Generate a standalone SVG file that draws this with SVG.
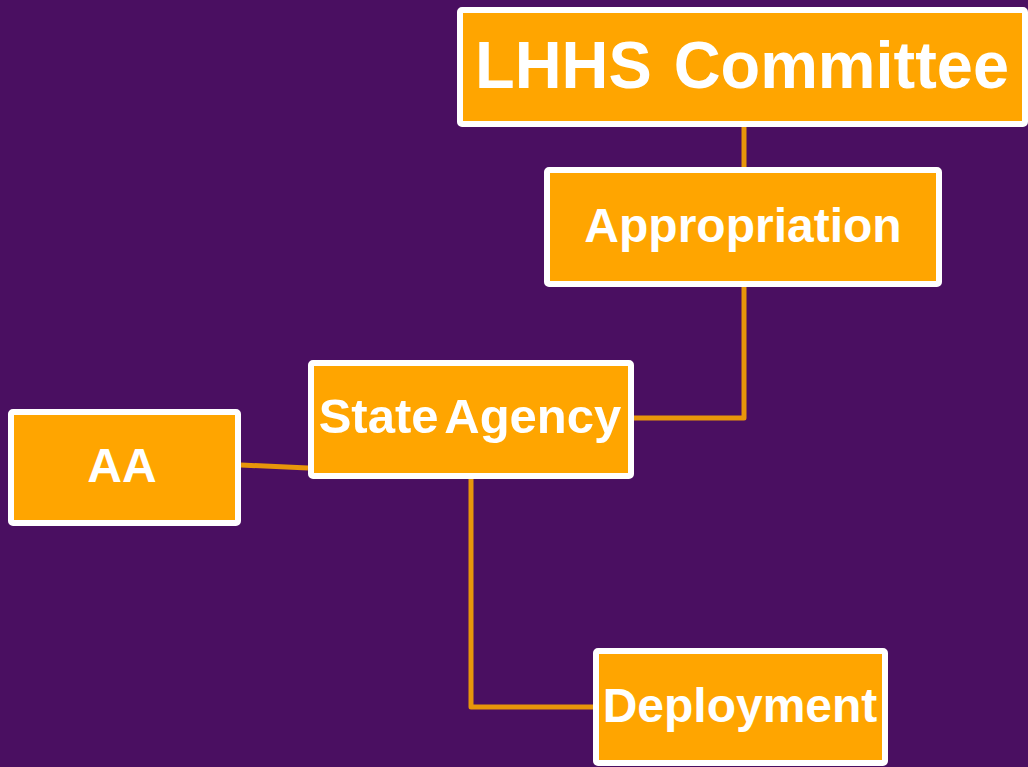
<svg xmlns="http://www.w3.org/2000/svg" width="1028" height="767" viewBox="0 0 1028 767">
<style>
.box{fill:#FFA500;stroke:#FFFFFF;stroke-width:6;}
.lbl{fill:#FFFFFF;font-family:"Liberation Sans",Arial,sans-serif;font-weight:bold;text-anchor:middle;}
.conn{fill:none;stroke:#E8960A;stroke-width:5;stroke-linejoin:round;}
</style>
<rect width="1028" height="767" fill="#4A0F61"/>
<g id="connectors">
<line class="conn" x1="744" y1="127" x2="744" y2="167"/>
<polyline class="conn" points="744,287 744,418 634,418"/>
<line class="conn" x1="241" y1="465" x2="308" y2="468"/>
<polyline class="conn" points="471,479 471,707 593,707"/>
</g>
<g id="lhhs">
<rect class="box" x="460" y="10" width="565" height="114" rx="2"/>
<text class="lbl" x="742" y="88" font-size="66" word-spacing="4" textLength="534" lengthAdjust="spacingAndGlyphs">LHHS Committee</text>
</g>
<g id="appropriation">
<rect class="box" x="547" y="170" width="392" height="114" rx="2"/>
<text class="lbl" x="743" y="242" font-size="48">Appropriation</text>
</g>
<g id="state-agency">
<rect class="box" x="311" y="363" width="320" height="113" rx="2"/>
<text class="lbl" x="470" y="433" font-size="49" word-spacing="-6">State Agency</text>
</g>
<g id="aa">
<rect class="box" x="11" y="412" width="227" height="111" rx="2"/>
<text class="lbl" x="122" y="482" font-size="48">AA</text>
</g>
<g id="deployment">
<rect class="box" x="596" y="651" width="289" height="112" rx="2"/>
<text class="lbl" x="740" y="722" font-size="48">Deployment</text>
</g>
</svg>
